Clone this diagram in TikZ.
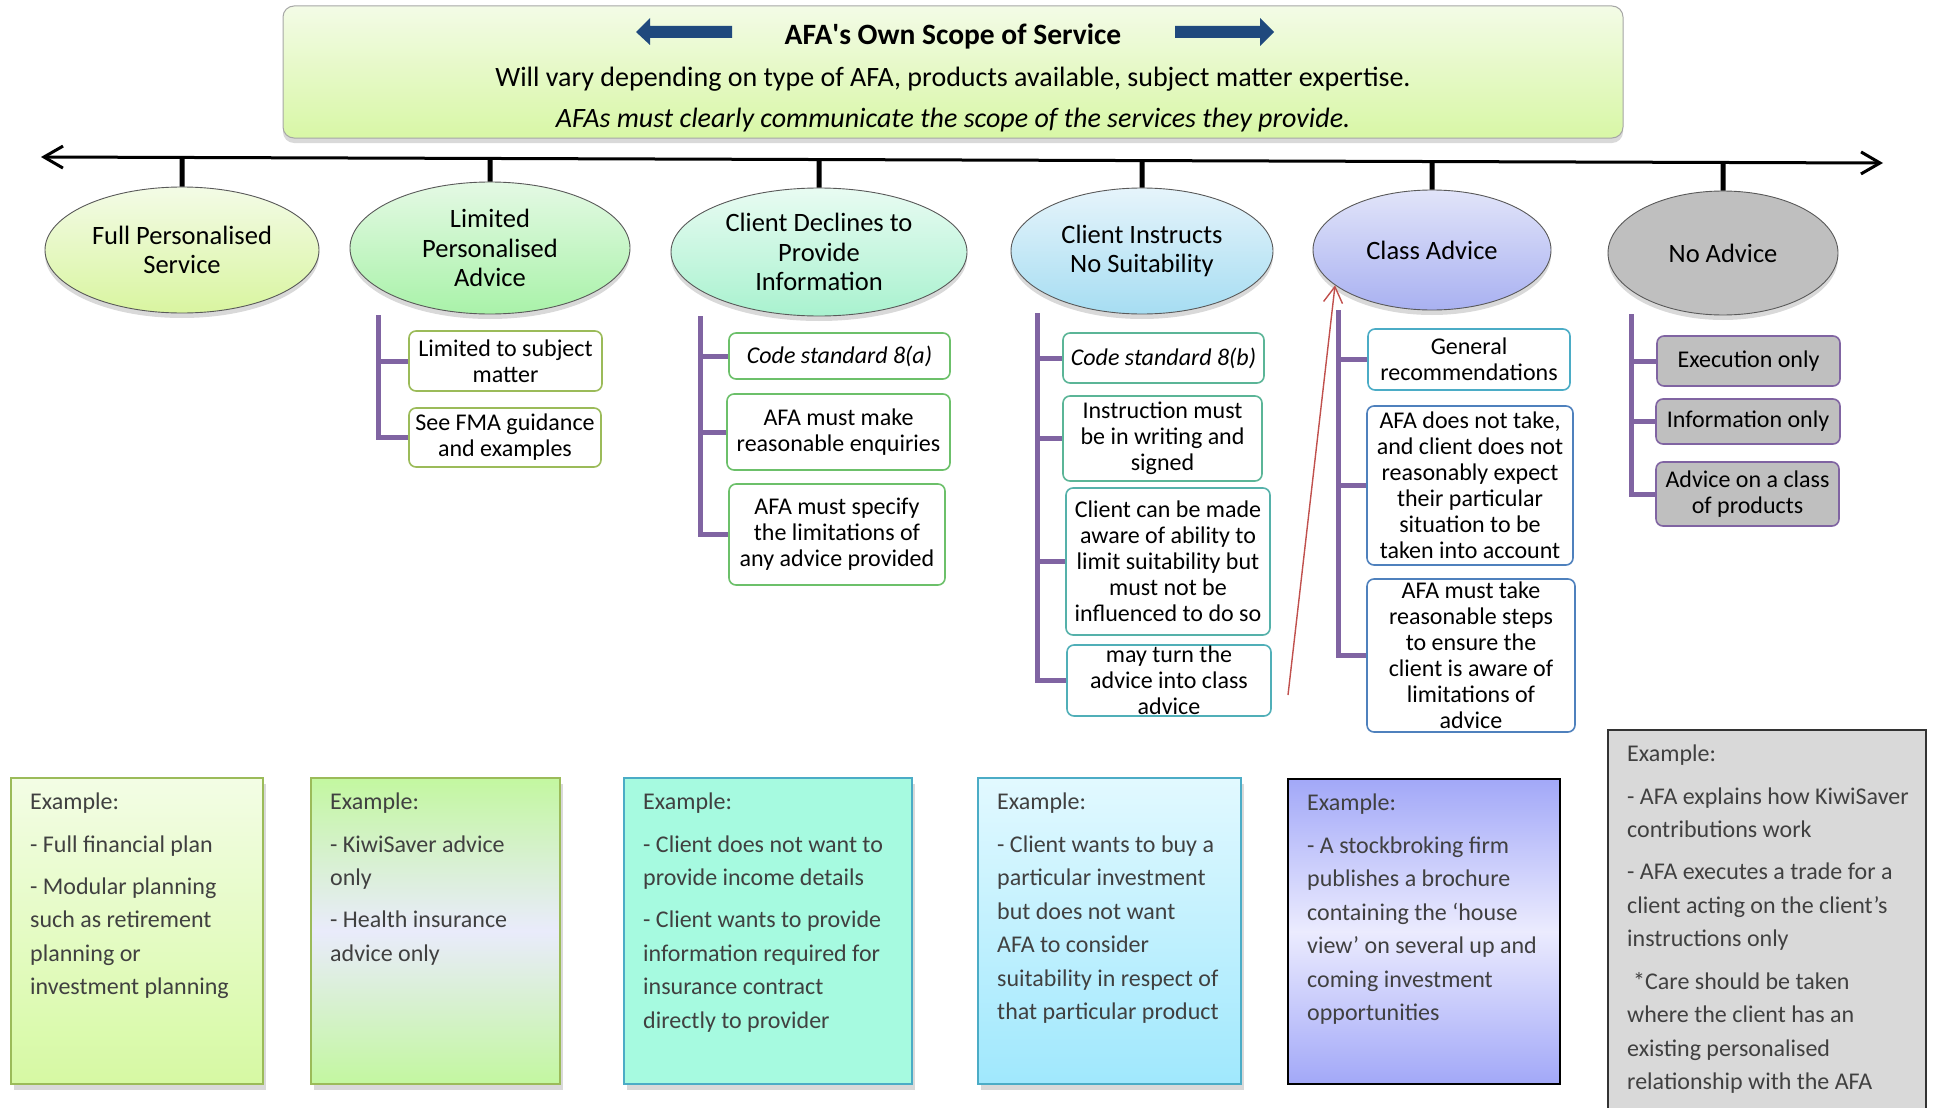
\documentclass[tikz,border=0pt]{standalone}
\usepackage{fontspec}
\setmainfont{Carlito}
\usetikzlibrary{shapes.geometric,shadows,arrows.meta,calc,positioning}

\definecolor{titleblue}{HTML}{1F497D}
\definecolor{barpurple}{HTML}{8064A2}
\definecolor{boxgreen}{HTML}{9BBB59}
\definecolor{codegreen}{HTML}{6CC06A}
\definecolor{tealline}{HTML}{5BB597}
\definecolor{aqualine}{HTML}{4BACC6}
\definecolor{steelline}{HTML}{4F81BD}
\definecolor{exgray}{HTML}{404040}
\definecolor{redline}{HTML}{C0504D}
\definecolor{bannertop}{HTML}{F3FBE6}
\definecolor{bannerbot}{HTML}{D8F7A6}
\definecolor{fpstop}{HTML}{F3FBE6}
\definecolor{fpsbot}{HTML}{D9F5A0}
\definecolor{lpatop}{HTML}{E4F9E4}
\definecolor{lpabot}{HTML}{A9F2A9}
\definecolor{cditop}{HTML}{E8FBF2}
\definecolor{cdibot}{HTML}{A9F2CF}
\definecolor{cintop}{HTML}{E6F4FB}
\definecolor{cinbot}{HTML}{A6DDF2}
\definecolor{clatop}{HTML}{E1E4F9}
\definecolor{clabot}{HTML}{A9B1F1}
\definecolor{noafill}{HTML}{BFBFBF}
\definecolor{exonetop}{HTML}{F3FDE5}
\definecolor{exonebot}{HTML}{D6F9A3}
\definecolor{extwoedge}{HTML}{C3F7A0}
\definecolor{extwomid}{HTML}{E9EBFB}
\definecolor{exthree}{HTML}{A6FAE0}
\definecolor{exfourtop}{HTML}{E2F9FF}
\definecolor{exfourbot}{HTML}{A0E8FD}
\definecolor{exfiveedge}{HTML}{A2A8F8}
\definecolor{exfivemid}{HTML}{EBEBFE}
\definecolor{exsix}{HTML}{D9D9D9}

\tikzset{
    oval/.style={
        ellipse,
        draw=black!65,
        line width=0.9pt,
        inner sep=0pt,
        align=center,
        font=\fontsize{26.5}{29.5}\selectfont,
        drop shadow={shadow xshift=0pt,shadow yshift=-5pt,opacity=0.3}
    },
    itembox/.style={
        rectangle,
        rounded corners=7pt,
        line width=1.6pt,
        fill=white,
        inner sep=0pt,
        align=center,
        font=\fontsize{24}{26}\selectfont
    },
    greybox/.style={
        itembox,
        draw=barpurple,
        fill=noafill
    },
    examplebox/.style={
        rectangle,
        anchor=north west,
        line width=1.8pt,
        inner sep=0pt
    },
    boxshadow/.style={
        drop shadow={shadow xshift=3pt,shadow yshift=-6pt,opacity=0.3}
    },
    exampletext/.style={
        below right=16pt and 20pt of #1,
        inner sep=0pt,
        align=left,
        text=exgray,
        font=\fontsize{24}{33.5}\selectfont
    },
    bracket/.style={
        draw=barpurple,
        line width=5pt
    },
    tick/.style={
        line width=5pt
    },
    axisline/.style={
        {Straight Barb[length=19pt,width=22pt]}-{Straight Barb[length=19pt,width=22pt]},
        line width=3pt
    },
    titlearrow/.style={
        fill=titleblue
    }
}

\begin{document}
\begin{tikzpicture}[x=1pt,y=-1pt]
    \useasboundingbox (0,0) rectangle (1936,1108);

    % banner at the top
    \node[
        rectangle,
        rounded corners=11pt,
        draw=black!35,
        line width=1pt,
        top color=bannertop,
        bottom color=bannerbot,
        drop shadow={shadow xshift=0pt,shadow yshift=-5pt,opacity=0.3},
        minimum width=1340pt,
        minimum height=132pt
    ] (scope) at (953,72) {};
    \fill[titlearrow] (636,32) -- (650,18) -- (650,26) -- (732,26)
        -- (732,38) -- (650,38) -- (650,45) -- cycle;
    \fill[titlearrow] (1274,32) -- (1260,18) -- (1260,26) -- (1175,26)
        -- (1175,38) -- (1260,38) -- (1260,46) -- cycle;
    \node[font=\bfseries\fontsize{29.5}{32}\selectfont] (scope title) at (953,36)
        {AFA\textquotesingle s Own Scope of Service};
    \node[font=\fontsize{28}{32}\selectfont] (scope text) at (953,79)
        {Will vary depending on type of AFA, products available, subject matter expertise.};
    \node[font=\itshape\fontsize{28}{32}\selectfont] (scope note) at (953,120)
        {AFAs must clearly communicate the scope of the services they provide.};

    % the range of services
    \coordinate (axis l) at (41,157);
    \coordinate (axis r) at (1883,163);
    \draw[axisline] (axis l) -- (axis r);

    \node[oval, minimum width=274pt, minimum height=126pt,
        top color=fpstop, bottom color=fpsbot]
        (fps) at (182,250) {Full Personalised\\Service};
    \node[oval, minimum width=280pt, minimum height=132pt,
        top color=lpatop, bottom color=lpabot]
        (lpa) at (490,248) {Limited\\Personalised\\Advice};
    \node[oval, minimum width=296pt, minimum height=128pt,
        top color=cditop, bottom color=cdibot]
        (cdi) at (819,252) {Client Declines to\\Provide\\Information};
    \node[oval, minimum width=262pt, minimum height=126pt,
        top color=cintop, bottom color=cinbot]
        (cin) at (1142,251) {Client Instructs\\No Suitability};
    \node[oval, minimum width=238pt, minimum height=120pt,
        top color=clatop, bottom color=clabot]
        (cla) at (1432,250) {Class Advice};
    \node[oval, minimum width=230pt, minimum height=124pt,
        fill=noafill]
        (noa) at (1723,253) {No Advice};

    \foreach \n in {fps,lpa,cdi,cin,cla,noa}
        \draw[tick] ($(axis l)!(\n.north)!(axis r)$) -- (\n.north);

    % limited personalised advice
    \node[itembox, draw=boxgreen, minimum width=193pt, minimum height=60pt]
        (lpa1) at (505.5,361) {Limited to subject\\matter};
    \node[itembox, draw=boxgreen, minimum width=192pt, minimum height=59pt]
        (lpa2) at (505,437.5) {See FMA guidance\\and examples};
    \coordinate (lpa bar) at (378,315);
    \foreach \b in {lpa1,lpa2}
        \draw[bracket] (lpa bar) |- (\b.west);

    % client declines to provide information
    \node[itembox, draw=codegreen, minimum width=221pt, minimum height=46pt]
        (cdi1) at (839.5,356) {\itshape Code standard 8(a)};
    \node[itembox, draw=codegreen, minimum width=223pt, minimum height=76pt]
        (cdi2) at (838.5,432) {AFA must make\\reasonable enquiries};
    \node[itembox, draw=codegreen, minimum width=216pt, minimum height=101pt]
        (cdi3) at (837,534.5) {AFA must specify\\the limitations of\\any advice provided};
    \coordinate (cdi bar) at (700,316);
    \foreach \b in {cdi1,cdi2,cdi3}
        \draw[bracket] (cdi bar) |- (\b.west);

    % client instructs no suitability
    \node[itembox, draw=tealline, minimum width=201pt, minimum height=50pt]
        (cin1) at (1163.5,358) {\itshape Code standard 8(b)};
    \node[itembox, draw=tealline, minimum width=199pt, minimum height=85pt]
        (cin2) at (1162.5,438.5) {Instruction must\\be in writing and\\signed};
    \node[itembox, draw=tealline!60!aqualine, minimum width=204pt, minimum height=147pt]
        (cin3) at (1168,561.5) {Client can be made\\aware of ability to\\limit suitability but\\must not be\\influenced to do so};
    \node[itembox, draw=tealline!30!aqualine, minimum width=204pt, minimum height=71pt]
        (cin4) at (1169,680.5) {may turn the\\advice into class\\advice};
    \coordinate (cin bar) at (1037,313);
    \foreach \b in {cin1,cin2,cin3,cin4}
        \draw[bracket] (cin bar) |- (\b.west);

    \coordinate (class link) at (1288,695);
    \draw[
        -{Straight Barb[length=16pt,width=19pt]},
        draw=redline,
        line width=1.4pt
    ] (class link) -- (cla.200);

    % class advice
    \node[itembox, draw=aqualine, minimum width=202pt, minimum height=61pt]
        (cla1) at (1469,359.5) {General\\recommendations};
    \node[itembox, draw=steelline, minimum width=206pt, minimum height=159pt]
        (cla2) at (1470,485.5) {AFA does not take,\\and client does not\\reasonably expect\\their particular\\situation to be\\taken into account};
    \node[itembox, draw=steelline, minimum width=208pt, minimum height=153pt]
        (cla3) at (1471,655.5) {AFA must take\\reasonable steps\\to ensure the\\client is aware of\\limitations of\\advice};
    \coordinate (cla bar) at (1338,310);
    \foreach \b in {cla1,cla2,cla3}
        \draw[bracket] (cla bar) |- (\b.west);

    % no advice
    \node[greybox, minimum width=183pt, minimum height=50pt]
        (noa1) at (1748.5,361) {Execution only};
    \node[greybox, minimum width=184pt, minimum height=45pt]
        (noa2) at (1748,421.5) {Information only};
    \node[greybox, minimum width=183pt, minimum height=64pt]
        (noa3) at (1747.5,494) {Advice on a class\\of products};
    \coordinate (noa bar) at (1631,314);
    \foreach \b in {noa1,noa2,noa3}
        \draw[bracket] (noa bar) |- (\b.west);

    % examples
    \node[examplebox, boxshadow, draw=boxgreen, minimum width=252pt, minimum height=306pt,
        top color=exonetop, bottom color=exonebot]
        (ex1) at (10,777) {};
    \node[examplebox, boxshadow, draw=boxgreen, minimum width=249pt, minimum height=306pt,
        top color=extwoedge, bottom color=extwoedge, middle color=extwomid]
        (ex2) at (310,777) {};
    \node[examplebox, boxshadow, draw=aqualine, minimum width=288pt, minimum height=306pt,
        fill=exthree]
        (ex3) at (623,777) {};
    \node[examplebox, boxshadow, draw=aqualine, minimum width=263pt, minimum height=306pt,
        top color=exfourtop, bottom color=exfourbot]
        (ex4) at (977,777) {};
    \node[examplebox, draw=black, minimum width=272pt, minimum height=305pt,
        top color=exfiveedge, bottom color=exfiveedge, middle color=exfivemid]
        (ex5) at (1287,778) {};
    \node[examplebox, draw=black!80, fill=exsix, minimum width=318pt, minimum height=400pt]
        (ex6) at (1607,729) {};

    \node[exampletext=ex1.north west] (ex1 text) {Example:\\[8.8pt]
        - Full financial plan\\[8.8pt]
        - Modular planning\\
        such as retirement\\
        planning or\\
        investment planning};
    \node[exampletext=ex2.north west] (ex2 text) {Example:\\[8.8pt]
        - KiwiSaver advice\\
        only\\[8.8pt]
        - Health insurance\\
        advice only};
    \node[exampletext=ex3.north west] (ex3 text) {Example:\\[8.8pt]
        - Client does not want to\\
        provide income details\\[8.8pt]
        - Client wants to provide\\
        information required for\\
        insurance contract\\
        directly to provider};
    \node[exampletext=ex4.north west] (ex4 text) {Example:\\[8.8pt]
        - Client wants to buy a\\
        particular investment\\
        but does not want\\
        AFA to consider\\
        suitability in respect of\\
        that particular product};
    \node[exampletext=ex5.north west] (ex5 text) {Example:\\[8.8pt]
        - A stockbroking firm\\
        publishes a brochure\\
        containing the ‘house\\
        view’ on several up and\\
        coming investment\\
        opportunities};
    \node[exampletext=ex6.north west] (ex6 text) {Example:\\[8.8pt]
        - AFA explains how KiwiSaver\\
        contributions work\\[8.8pt]
        - AFA executes a trade for a\\
        client acting on the client’s\\
        instructions only\\[8.8pt]
        \hspace*{6pt}*Care should be taken\\
        where the client has an\\
        existing personalised\\
        relationship with the AFA};
\end{tikzpicture}
\end{document}
